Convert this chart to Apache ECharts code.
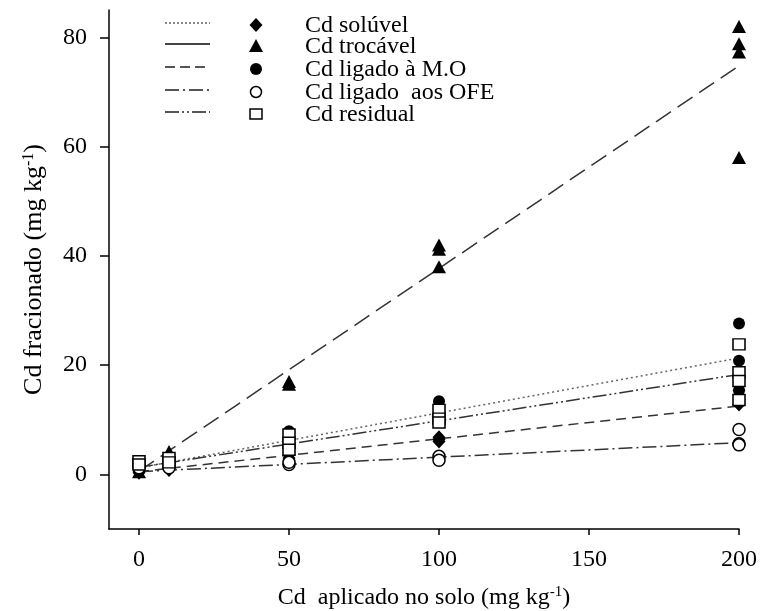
<!DOCTYPE html>
<html>
<head>
<meta charset="utf-8">
<script src="https://cdn.jsdelivr.net/npm/echarts@6/dist/echarts.min.js"></script>
<style>html,body{margin:0;padding:0;background:#fff}#c{width:760px;height:611px}</style>
</head>
<body>
<div id="c"></div>
<script>
// ---- data ----
const doses = [0, 10, 50, 100, 200];
const soluvel   = [[0.3, 0.6], [1.0, 0.8], [3.0, 3.6], [6.8, 6.4, 6.0], [15.4, 13.8, 12.8]];
const trocavel  = [[0.5], [4.2, 3.6], [16.5, 17.0], [42.0, 41.2, 38.0], [82.0, 78.8, 77.3, 58.0]];
const ligadoMO  = [[1.0], [2.0, 1.6], [7.9, 6.5, 5.5], [13.4, 11.0, 9.8], [27.6, 20.8, 15.4]];
const ligadoOFE = [[1.2], [1.6, 1.2], [1.8, 2.2], [3.3, 2.6], [8.2, 5.6, 5.4]];
const residual  = [[2.4, 1.8], [3.0, 2.2], [7.3, 5.8, 4.5], [11.8, 10.2, 9.5], [23.8, 18.7, 17.1, 13.6]];
// fitted lines (value at x = 0 and x = 200)
const fitX = [0, 200];
const fitMO = [1.2, 21.3];
const fitTrocavel = [0.6, 74.8];
const fitSoluvel = [0.5, 12.5];
const fitOFE = [0.5, 5.8];
const fitResidual = [1.3, 18.3];
const xTicks = [0, 50, 100, 150, 200];
const yTicks = [0, 20, 40, 60, 80];
const legendNames = ['Cd solúvel', 'Cd trocável', 'Cd ligado à M.O', 'Cd ligado  aos OFE', 'Cd residual'];

const FONT = '"Liberation Serif", "DejaVu Serif", serif';
function pts(arr) {
  const out = [];
  arr.forEach((reps, i) => reps.forEach(v => out.push([doses[i], v])));
  return out;
}
function fit(vals) { return fitX.map((x, i) => [x, vals[i]]); }

const dashDot = [14, 4, 2, 4];
const dashDotDot = [14, 3, 2, 3, 2, 3];
function lineSeries(vals, type, color) {
  return {
    type: 'line', data: fit(vals), symbol: 'none', silent: true, z: 1,
    lineStyle: { color: color || '#444', width: 1.5, type: type }
  };
}
const black = '#000';
const series = [
  lineSeries(fitMO, [2, 3], '#666'),
  lineSeries(fitTrocavel, [18, 8], '#333'),
  lineSeries(fitSoluvel, [10, 6], '#333'),
  lineSeries(fitOFE, dashDot, '#333'),
  lineSeries(fitResidual, dashDotDot, '#333'),
  { type: 'scatter', name: legendNames[0], data: pts(soluvel), symbol: 'diamond', symbolSize: [13, 14], itemStyle: { color: black, opacity: 1 }, z: 3 },
  { type: 'scatter', name: legendNames[1], data: pts(trocavel), symbol: 'triangle', symbolSize: [14, 13], itemStyle: { color: black, opacity: 1 }, z: 3 },
  { type: 'scatter', name: legendNames[2], data: pts(ligadoMO), symbol: 'circle', symbolSize: 12, itemStyle: { color: black, opacity: 1 }, z: 3 },
  { type: 'scatter', name: legendNames[3], data: pts(ligadoOFE), symbol: 'circle', symbolSize: 12, itemStyle: { color: '#fff', borderColor: black, borderWidth: 1.5, opacity: 1 }, z: 4 },
  { type: 'scatter', name: legendNames[4], data: pts(residual), symbol: 'rect', symbolSize: [12, 11], itemStyle: { color: '#fff', borderColor: black, borderWidth: 1.5, opacity: 1 }, z: 5 }
];

// legend drawn as graphics (line sample, marker, label)
const legRowsY = [23, 44, 67, 90, 112];
const legLineTypes = [[2, 2], 'solid', [10, 5], [14, 4, 2, 4], [14, 3, 2, 3, 2, 3]];
const legColors = ['#888', '#444', '#555', '#555', '#555'];
const legSymbols = [
  { type: 'polygon', shape: { points: [[0, -7], [6.5, 0], [0, 7], [-6.5, 0]] }, style: { fill: black } },
  { type: 'polygon', shape: { points: [[0, -7], [7, 6], [-7, 6]] }, style: { fill: black } },
  { type: 'circle', shape: { cx: 0, cy: 0, r: 6 }, style: { fill: black } },
  { type: 'circle', shape: { cx: 0, cy: 0, r: 5.5 }, style: { fill: '#fff', stroke: black, lineWidth: 1.5 } },
  { type: 'rect', shape: { x: -6, y: -5, width: 12, height: 10 }, style: { fill: '#fff', stroke: black, lineWidth: 1.5 } }
];
const graphics = [];
legRowsY.forEach((y, i) => {
  graphics.push({ type: 'line', shape: { x1: 165, y1: y, x2: 210, y2: y }, style: { stroke: legColors[i], lineWidth: 2, lineDash: legLineTypes[i] === 'solid' ? null : legLineTypes[i] } });
  const s = Object.assign({}, legSymbols[i], { x: 256, y: y + 2 });
  graphics.push(s);
  graphics.push({ type: 'text', x: 305, y: y + 3, style: { text: legendNames[i], font: '24px ' + FONT, fill: '#000', textVerticalAlign: 'middle' } });
});

const chart = echarts.init(document.getElementById('c'), null, { renderer: 'canvas' });
chart.setOption({
  animation: false,
  backgroundColor: '#fff',
  grid: { left: 109, right: 21, top: 10, bottom: 82, containLabel: false, outerBoundsMode: 'none' },
  xAxis: {
    type: 'value', min: -10, max: 200,
    name: 'Cd  aplicado no solo (mg kg{sup|-1})', nameLocation: 'middle', nameGap: 56,
    nameTextStyle: { fontFamily: FONT, fontSize: 24, color: '#000', rich: { sup: { fontFamily: FONT, fontSize: 15, verticalAlign: 'top', padding: [0, 0, 10, 0] } } },
    axisLine: { show: true, onZero: false, lineStyle: { color: '#000', width: 1.5 } },
    axisTick: { show: true, length: 6, lineStyle: { color: '#000', width: 1.5 }, customValues: xTicks },
    axisLabel: { margin: 19, fontFamily: FONT, fontSize: 24, color: '#000', customValues: xTicks },
    splitLine: { show: false }
  },
  yAxis: {
    type: 'value', min: -10, max: 85,
    name: 'Cd fracionado (mg kg{sup|-1})', nameLocation: 'middle', nameGap: 62, nameRotate: 90,
    nameTextStyle: { fontFamily: FONT, fontSize: 26, color: '#000', rich: { sup: { fontFamily: FONT, fontSize: 16, verticalAlign: 'top', padding: [0, 0, 10, 0] } } },
    axisLine: { show: true, onZero: false, lineStyle: { color: '#000', width: 1.5 } },
    axisTick: { show: true, length: 9, lineStyle: { color: '#000', width: 1.5 }, customValues: yTicks },
    axisLabel: { margin: 22, fontFamily: FONT, fontSize: 24, color: '#000', customValues: yTicks },
    splitLine: { show: false }
  },
  graphic: graphics,
  series: series
});
</script>
</body>
</html>
